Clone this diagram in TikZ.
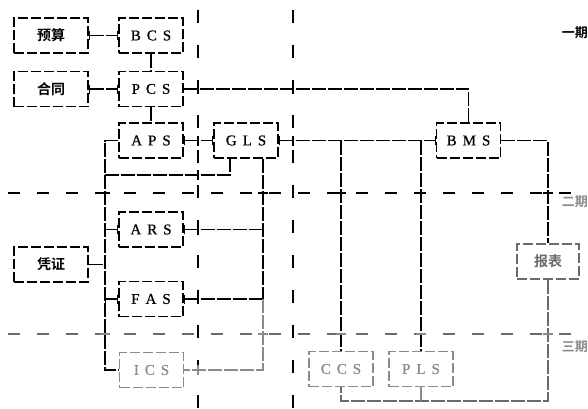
\documentclass[tikz,border=0pt]{standalone}
\usepackage{fontspec}
\setmainfont{Liberation Serif}
\newfontfamily\sysfont[FakeBold=0.6]{Liberation Serif}
\newfontfamily\cjk{Noto Sans CJK SC Bold}
\usetikzlibrary{arrows.meta}
\definecolor{faint}{HTML}{8A8A8A}
\definecolor{mid}{HTML}{6A6A6A}
\newcommand{\sys}[3]{#1\hspace{0.4em}#2\hspace{0.4em}#3}
\begin{document}
\begin{tikzpicture}[x=1pt,y=-1pt,
  box/.style={draw, line width=1.3pt, dash pattern=on 10pt off 3pt, minimum width=64pt, minimum height=35pt, inner sep=0pt, font=\sysfont\fontsize{15}{15}\selectfont},
  cbox/.style={box, minimum width=74pt, font=\cjk\fontsize{14}{14}\selectfont},
  conn/.style={line width=1.2pt, dash pattern=on 14pt off 2pt},
  ends/.style={{Bar[width=9pt,line width=1.2pt]}-{Bar[width=9pt,line width=1.2pt]}},
  divider/.style={line width=1.2pt, dash pattern=on 12pt off 17pt, dash phase=-8pt},
  guide/.style={line width=1.2pt, dash pattern=on 13pt off 22pt},
  tick/.style={line width=1.2pt},
  period/.style={font=\cjk\fontsize{13}{13}\selectfont, anchor=east, inner sep=0pt}]
\useasboundingbox (0,0) rectangle (588,408);
% guides and dividers
\draw[guide] (198,10) -- (198,408);
\draw[guide] (293,10) -- (293,408);
\draw[divider] (0,193) -- (588,193);
\draw[divider,mid] (0,334) -- (588,334);
% nodes
\node[cbox] (yusuan) at (51,35.5) {预算};
\node[box] (BCS) at (151,35.5) {\sys BCS};
\node[cbox] (hetong) at (51,89) {合同};
\node[box] (PCS) at (151,89) {\sys PCS};
\node[box] (APS) at (151,140.5) {\sys APS};
\node[box] (GLS) at (246,140.5) {\sys GLS};
\node[box] (BMS) at (468.5,140.5) {\sys BMS};
\node[box] (ARS) at (151,229.5) {\sys ARS};
\node[cbox] (pingzheng) at (51,264.5) {凭证};
\node[box] (FAS) at (151,299) {\sys FAS};
\node[box,faint,text=faint] (ICS) at (151.5,370) {\sys ICS};
\node[box,faint,text=faint] (CCS) at (341,369) {\sys CCS};
\node[box,faint,text=faint] (PLS) at (421,369) {\sys PLS};
\node[cbox,mid,text=mid,minimum width=62pt] (baobiao) at (548,261.5) {报表};
\node[period] (p1) at (588,33) {一期};
\node[period,text=faint] (p2) at (588,202) {二期};
\node[period,text=faint] (p3) at (588,347) {三期};
% coordinates
\coordinate (busM) at (105,175);
\coordinate (gr) at (263,299);
\coordinate (j1) at (341,140.5);
\coordinate (j2) at (421,140.5);
\coordinate (bl) at (341,401);
% connectors
\draw[conn,ends] (yusuan.east) -- (BCS.west);
\draw[conn,ends] (hetong.east) -- (PCS.west);
\draw[conn] (BCS.south) -- (PCS.north);
\draw[conn] (PCS.south) -- (APS.north);
\draw[conn] (PCS.east) -| (BMS.north);
\draw[conn,ends] (APS.east) -- (GLS.west);
\draw[conn,ends] (GLS.east) -- (BMS.west);
\draw[conn] (j1) -- (CCS.north);
\draw[conn] (j2) -- (PLS.north);
\draw[conn] (BMS.east) -| (baobiao.north);
\draw[conn,mid] (baobiao.south) |- (bl) -- (CCS.south);
\draw[conn,faint] (PLS.south) -- (PLS.south |- bl);
\draw[conn] (APS.west) -| (busM) -| ([xshift=-16pt]GLS.south);
\draw[conn] (busM) |- (ICS.west);
\draw[conn,ends] (ARS.west) -- (ARS.west -| busM);
\draw[conn,ends] (FAS.west) -- (FAS.west -| busM);
\draw[conn] (pingzheng.east) -- (pingzheng.east -| busM);
\draw[conn] ([xshift=17pt]GLS.south) -- (gr);
\draw[conn,ends] (ARS.east) -- (ARS.east -| gr);
\draw[conn,ends] (FAS.east) -- (gr);
\draw[conn,faint] (gr) |- (ICS.east);
% crossing ticks
\foreach \p in {(198,89),(293,89),(198,140.5),(293,140.5),(198,175),(198,229.5),(198,299)}
  \draw[tick] \p ++(0,-5) -- ++(0,10);
\draw[tick,faint] (198,370) ++(0,-5) -- ++(0,10);
\foreach \p in {(105,193),(263,193),(341,193),(421,193),(548,193)}
  \draw[tick] \p ++(-5,0) -- ++(10,0);
\foreach \p in {(105,334),(263,334),(341,334),(421,334),(548,334)}
  \draw[tick,faint] \p ++(-5,0) -- ++(10,0);
\end{tikzpicture}
\end{document}
